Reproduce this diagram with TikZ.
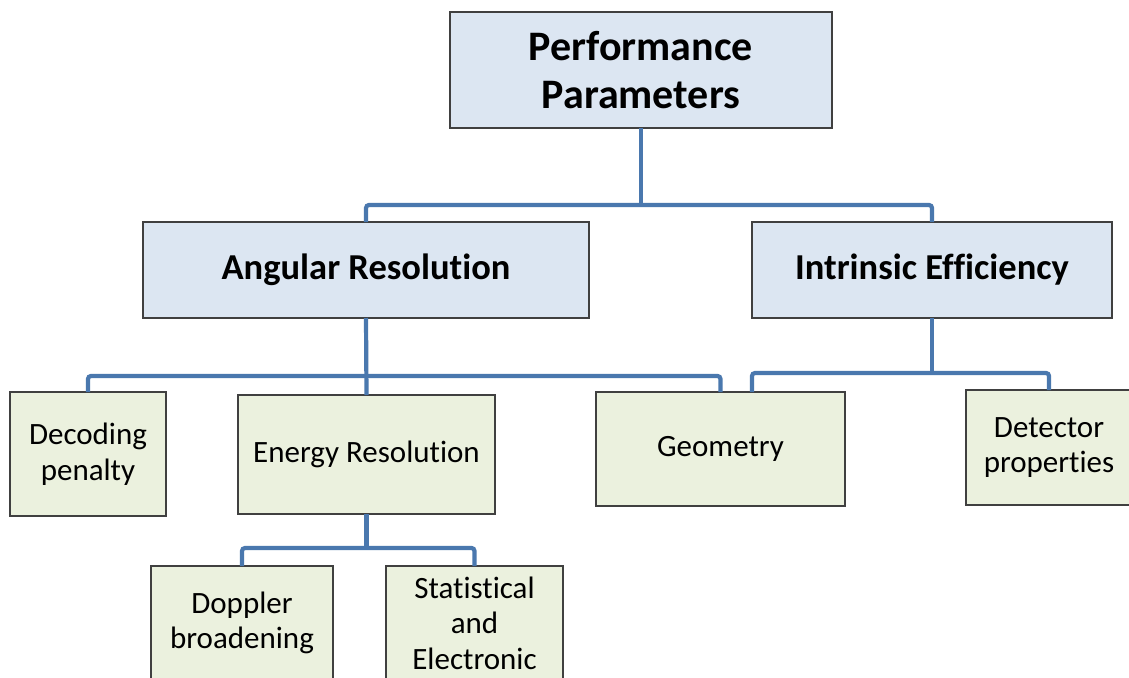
\documentclass[tikz,border=0pt]{standalone}
\usepackage{fontspec}
\setmainfont{Carlito}[Ligatures=NoCommon]
\usetikzlibrary{calc}
\definecolor{topfill}{HTML}{DCE6F2}
\definecolor{leaffill}{HTML}{EBF1DE}
\definecolor{boxline}{HTML}{404040}
\definecolor{linkblue}{HTML}{4A78AE}
\tikzset{
  box/.style={draw=boxline, line width=1.2pt, inner sep=0pt, outer sep=0pt,
              align=center, text=black, anchor=center},
  upper/.style={box, fill=topfill, font=\bfseries\fontsize{36.5}{44}\selectfont},
  rootbox/.style={box, fill=topfill, font=\bfseries\fontsize{42}{48}\selectfont},
  leaf/.style={box, fill=leaffill, font=\fontsize{31}{35.5}\selectfont},
  link/.style={draw=linkblue, line width=4.2pt, rounded corners=3pt},
  trunk/.style={draw=linkblue, line width=4.2pt}
}
\begin{document}
\begin{tikzpicture}[x=1pt, y=-1pt]
\useasboundingbox (0,0) rectangle (1129,677);
\fill[white] (0,0) rectangle (1129,677);

% heights of the horizontal bus lines
\coordinate (busA) at (641,205);
\coordinate (busB) at (366,376);
\coordinate (busC) at (932,373);
\coordinate (busD) at (366,548);

% box centres
\path (641,70) coordinate (perfC);
\path (366,270) coordinate (angC);
\path (932,270) coordinate (intrC);
\path (88,454) coordinate (decC);
\path (366.5,454.5) coordinate (eneC);
\path (720.5,449) coordinate (geoC);
\path (1049,447.5) coordinate (detC);
\path (242,623) coordinate (dopC);
\path (474.5,623) coordinate (statC);

\node[rootbox, minimum width=382pt, minimum height=116pt] (perf) at (perfC) {Performance\\Parameters};
\node[upper, minimum width=446pt, minimum height=96pt] (ang) at (angC) {Angular Resolution};
\node[upper, minimum width=360pt, minimum height=96pt] (intr) at (intrC) {Intrinsic Efficiency};

\node[leaf, minimum width=156pt, minimum height=124pt] (dec) at (decC) {Decoding\\penalty};
\node[leaf, minimum width=257pt, minimum height=119pt] (ene) at (eneC) {Energy Resolution};
\node[leaf, minimum width=249pt, minimum height=114pt] (geo) at (geoC) {Geometry};
\node[leaf, minimum width=166pt, minimum height=115pt] (det) at (detC) {Detector\\properties};
\node[leaf, minimum width=182pt, minimum height=114pt] (dop) at (dopC) {Doppler\\broadening};
\node[leaf, minimum width=177pt, minimum height=114pt] (stat) at (statC) {Statistical\\and\\Electronic};

% Performance Parameters -> Angular Resolution, Intrinsic Efficiency
\draw[trunk] (perf.south) -- (perf.south |- busA);
\draw[link] (ang.north) -- (ang.north |- busA) -- (intr.north |- busA) -- (intr.north);

% Angular Resolution -> Decoding penalty, Energy Resolution, Geometry
\draw[trunk] (ang.south) -- (ene.north);
\draw[link] (dec.north) -- (dec.north |- busB) -- (geo.north |- busB) -- (geo.north);

% Intrinsic Efficiency -> Geometry, Detector properties
\coordinate (geoR) at (intr.south west |- geo.north);
\draw[trunk] (intr.south) -- (intr.south |- busC);
\draw[link] (geoR) -- (geoR |- busC) -- (det.north |- busC) -- (det.north);

% Energy Resolution -> Doppler broadening, Statistical and Electronic
\draw[trunk] (ene.south) -- (ene.south |- busD);
\draw[link] (dop.north) -- (dop.north |- busD) -- (stat.north |- busD) -- (stat.north);
\end{tikzpicture}
\end{document}
